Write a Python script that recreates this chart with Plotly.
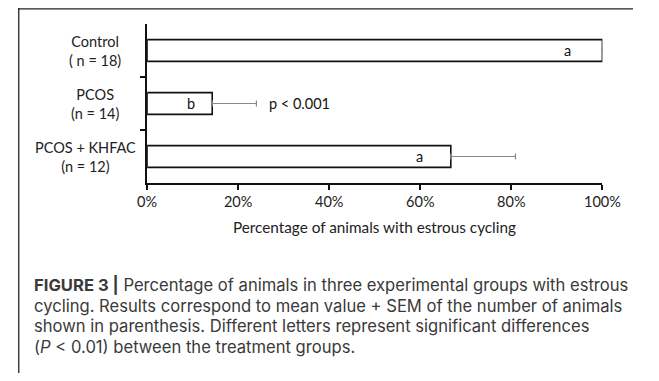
import plotly.graph_objects as go

# ---- data ----
groups = ["Control", "PCOS", "PCOS + KHFAC"]
group_labels = ["Control<br>( n = 18)", "PCOS<br>(n = 14)", "PCOS + KHFAC<br>(n = 12)"]
percent_cycling = [100.0, 14.3, 66.7]
sem_plus = [None, 9.7, 14.2]
letters = ["a", "b", "a"]
letter_x = [92.4, 9.7, 59.9]
pvalue_text = "p < 0.001"
pvalue_x = 26.3
x_ticks = [0, 20, 40, 60, 80, 100]
x_ticktext = ["0%", "20%", "40%", "60%", "80%", "100%"]
x_title = "Percentage of animals with estrous cycling"
caption_lines = [
    "<b>FIGURE 3 |</b> Percentage of animals in three experimental groups with estrous",
    "cycling. Results correspond to mean value + SEM of the number of animals",
    "shown in parenthesis. Different letters represent significant differences",
    "(<i>P</i> < 0.01) between the treatment groups.",
]

# page body has an 8px margin on every side: figure sits at (8, 8) and must fit the window
OFF = 8
W, H = 659 - 2 * OFF, 381 - 2 * OFF


def px(x):
    return (x - OFF) / W


def py(y):
    return 1 - (y - OFF) / H


ypos = list(range(len(groups)))
label_cx = [88, 89, 79]

fig = go.Figure()
fig.add_trace(go.Bar(
    x=percent_cycling, y=ypos, orientation="h",
    marker=dict(color="white", line=dict(color="#111", width=1.6)),
    error_x=dict(type="data", symmetric=False,
                 array=[v if v is not None else float("nan") for v in sem_plus],
                 arrayminus=[0, 0, 0],
                 color="#888", thickness=1.2, width=3),
    hoverinfo="skip", showlegend=False,
))

FONT_CHART = "Lato"
FS = 14.5
ann = []
for i, (lbl, lx, lt) in enumerate(zip(group_labels, letter_x, letters)):
    ann.append(dict(x=px(label_cx[i]), xref="paper", y=i, yref="y", text=lbl, showarrow=False,
                    xanchor="center", yanchor="middle", align="center",
                    font=dict(family=FONT_CHART, size=FS, color="#222")))
    ann.append(dict(x=lx, xref="x", y=i, yref="y", text=lt, showarrow=False,
                    xanchor="center", yanchor="middle",
                    font=dict(family=FONT_CHART, size=FS, color="#111")))
ann.append(dict(x=pvalue_x, xref="x", y=1, yref="y", text=pvalue_text, showarrow=False,
                xanchor="left", yanchor="middle",
                font=dict(family=FONT_CHART, size=FS, color="#111")))
ann.append(dict(x=px(381), xref="paper", y=py(227), yref="paper", text=x_title,
                showarrow=False, xanchor="center", yanchor="middle",
                font=dict(family=FONT_CHART, size=15.3, color="#222")))
for k, (line, yy) in enumerate(zip(caption_lines, [285, 305.5, 326, 346.5])):
    ann.append(dict(x=px(23), xref="paper", y=py(yy), yref="paper", text=line,
                    showarrow=False, xanchor="left", yanchor="middle", align="left",
                    font=dict(family="Inter", size=16.6, color="#3a3a3a")))

fig.update_layout(
    width=W, height=H,
    margin=dict(l=0, r=0, t=0, b=0, pad=0),
    paper_bgcolor="white", plot_bgcolor="white",
    bargap=0.59,
    annotations=ann,
    xaxis=dict(domain=[px(143), px(619)], range=[0, 100], tickmode="array",
               tickvals=x_ticks, ticktext=x_ticktext,
               ticks="outside", ticklen=5, tickwidth=1.6, tickcolor="#111",
               showline=True, linecolor="#111", linewidth=1.8, showgrid=False, zeroline=False,
               tickfont=dict(family=FONT_CHART, size=FS, color="#222")),
    yaxis=dict(domain=[py(183), py(24)], range=[2.5, -0.5],
               tickvals=[0.5, 1.5], ticktext=["", ""], ticks="outside", ticklen=5,
               tickwidth=1.6, tickcolor="#111",
               showline=True, linecolor="#111", linewidth=1.8, showgrid=False, zeroline=False),
    shapes=[
        dict(type="line", xref="paper", yref="paper", x0=0, x1=1, y0=1 - 0.8 / H, y1=1 - 0.8 / H,
             line=dict(color="#222", width=1.3)),
        dict(type="line", xref="paper", yref="paper", x0=0.8 / W, x1=0.8 / W, y0=1, y1=0,
             line=dict(color="#222", width=1.3)),
    ],
)

fig.write_html("out.html")
